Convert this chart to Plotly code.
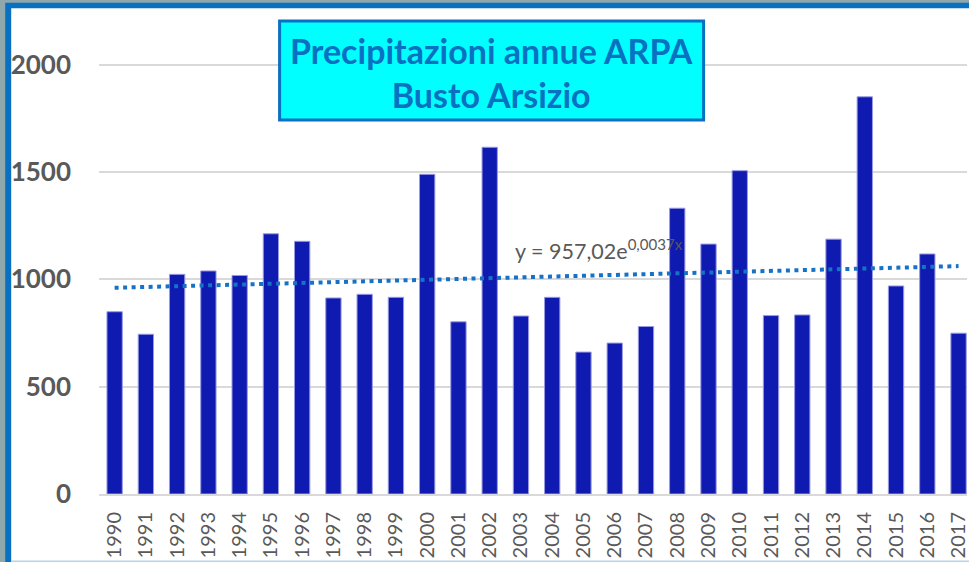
import plotly.graph_objects as go
import math

years = [str(y) for y in range(1990, 2018)]
rain_mm = [849, 744, 1023, 1039, 1018, 1212, 1177, 913, 930, 916,
           1489, 802, 1615, 829, 916, 661, 703, 780, 1331, 1164,
           1506, 831, 834, 1187, 1850, 969, 1118, 749]
y_ticks = [0, 500, 1000, 1500, 2000]
trend_a = 957.02
trend_b = 0.0037
trend_y = [trend_a * math.exp(trend_b * (i + 1)) for i in range(len(years))]

W, H = 969, 562
L, R, T, B = 99, 0, 20, 68
PW, PH = W - L - R, H - T - B


def px(x):
    return (x - L) / PW


def py(y):
    return (H - B - y) / PH


FONT = "Lato, sans-serif"

fig = go.Figure()
fig.add_trace(go.Bar(
    x=years, y=rain_mm,
    marker=dict(color="#0E1AB0", line=dict(color="#9A9AE2", width=1)),
    showlegend=False, hoverinfo="x+y"))
fig.add_trace(go.Scatter(
    x=years, y=trend_y, mode="lines",
    line=dict(color="#1672C6", width=4, dash="4px,4.5px"),
    showlegend=False, hoverinfo="skip"))

shapes = [
    dict(type="rect", xref="paper", yref="paper", x0=px(5), x1=px(990), y0=py(566), y1=py(2.7),
         fillcolor="#0A70C2", line=dict(width=0), layer="below"),
    dict(type="rect", xref="paper", yref="paper", x0=px(11), x1=px(990), y0=py(566), y1=py(8.3),
         fillcolor="white", line=dict(width=0), layer="below"),
    dict(type="rect", xref="paper", yref="paper", x0=px(11), x1=px(990), y0=py(562), y1=py(560.5),
         fillcolor="#B7D3EC", line=dict(width=0), layer="below"),
    dict(type="rect", xref="paper", yref="paper", x0=px(280), x1=px(705), y0=py(120), y1=py(21),
         fillcolor="#00FFFF", line=dict(color="#0A70C2", width=3), layer="above"),
]

annotations = [
    dict(xref="paper", yref="paper", x=px(492.5), y=py(72), xanchor="center", yanchor="middle",
         text="<b>Precipitazioni annue ARPA<br>Busto Arsizio</b>", showarrow=False,
         font=dict(family=FONT, size=34, color="#0A70C2"),
         align="center"),
    dict(xref="paper", yref="paper", x=px(514), y=py(250), xanchor="left", yanchor="middle",
         text="y = 957,02e<sup>0,0037x</sup>", showarrow=False,
         font=dict(family=FONT, size=21.5, color="#595959")),
]

fig.update_layout(
    width=W, height=H,
    margin=dict(l=L, r=R, t=T, b=B, pad=0),
    paper_bgcolor="#8FA8AC",
    plot_bgcolor="rgba(0,0,0,0)",
    bargap=0.51,
    shapes=shapes,
    annotations=annotations,
    xaxis=dict(type="category", range=[-0.5, 27.27], tickangle=-90,
               tickfont=dict(family=FONT, size=20, color="#595959"),
               showgrid=False, showline=True, linecolor="#D9D9D9", linewidth=2,
               ticks="", ticklabelstandoff=8, fixedrange=True),
    yaxis=dict(range=[0, PH / (429.4 / 2000)], tickvals=y_ticks,
               tickfont=dict(family=FONT, size=26, color="#595959", weight="bold"),
               showgrid=True, gridcolor="#D9D9D9", gridwidth=1.5,
               zeroline=False, showline=False, ticks="", ticklabelstandoff=27,
               fixedrange=True),
)

fig.write_html("out.html", config={"displayModeBar": False},
               post_script="document.body.style.margin='0';document.body.style.overflow='hidden';")
